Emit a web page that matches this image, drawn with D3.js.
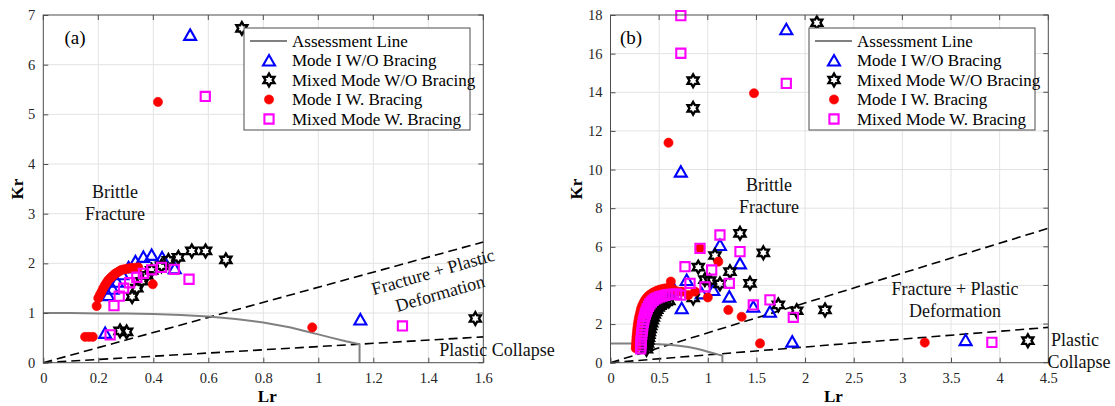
<!DOCTYPE html>
<html>
<head>
<meta charset="utf-8">
<script src="https://cdn.jsdelivr.net/npm/d3@7"></script>
<style>body{margin:0;background:#fff}</style>
</head>
<body>
<div id="chart"></div>
<script>
// ---------- data ----------
// assessment line (failure assessment curve), same in both panels
const assessLr = [0, 0.1, 0.2, 0.3, 0.4, 0.5, 0.6, 0.7, 0.8, 0.9, 0.95, 1.0, 1.05, 1.1, 1.125, 1.15, 1.15];
const assessKr = [1.0, 1.0, 0.99, 0.99, 0.98, 0.96, 0.93, 0.88, 0.81, 0.71, 0.64, 0.57, 0.50, 0.43, 0.40, 0.37, 0];

// dashed region boundaries [Lr, Kr] end points
const aUpperDash = [[0, 0], [1.6, 2.43]];
const aLowerDash = [[0, 0], [1.6, 0.52]];
const bUpperDash = [[0, 0], [4.5, 6.96]];
const bLowerDash = [[0, 0], [4.5, 1.83]];

const seriesNames = ["Mode I W/O Bracing", "Mixed Mode W/O Bracing", "Mode I W. Bracing", "Mixed Mode W. Bracing"];

// panel (a): [Lr, Kr]
const aModeIWO = [[0.534,6.60],[1.153,0.87],[0.225,0.60],
  [0.236,1.36],[0.252,1.49],[0.268,1.63],[0.287,1.78],[0.31,1.92],[0.335,2.04],[0.364,2.13],[0.394,2.17],[0.432,2.12],[0.478,1.90]];
const aMixedWO = [[0.722,6.73],[1.571,0.89],[0.279,0.64],[0.303,0.62],
  [0.323,1.33],[0.34,1.50],[0.358,1.64],[0.376,1.76],[0.394,1.86],[0.43,1.95],[0.455,2.06],[0.491,2.12],[0.54,2.25],[0.59,2.25],[0.664,2.07]];
const aModeIW = [[0.417,5.25],[0.978,0.71],[0.152,0.52],[0.166,0.52],[0.18,0.52],[0.194,1.14],[0.398,1.58],
  [0.2,1.30],[0.206,1.37],[0.212,1.43],[0.218,1.50],[0.224,1.56],[0.23,1.61],[0.236,1.66],[0.243,1.70],[0.249,1.73],
  [0.255,1.76],[0.261,1.79],[0.267,1.81],[0.273,1.83],[0.279,1.85],[0.285,1.87],[0.294,1.88],[0.303,1.89],[0.312,1.90],
  [0.321,1.91],[0.333,1.91],[0.345,1.92]];
const aMixedW = [[0.589,5.36],[1.306,0.74],[0.243,0.56],
  [0.257,1.15],[0.276,1.34],[0.292,1.50],[0.314,1.61],[0.34,1.72],[0.364,1.80],[0.394,1.87],[0.43,1.92],[0.476,1.88],[0.530,1.68]];

// panel (b): [Lr, Kr]
const bModeIWO = [[1.807,17.26],[0.723,9.89],[1.868,1.09],[3.65,1.17],
  [1.125,6.09],[1.331,5.14],[1.221,3.42],[1.468,2.90],[1.639,2.64],[0.732,2.82],[1.057,3.76],[0.937,3.59],[0.783,4.28],[0.62,3.6],[0.66,3.75]];
const bMixedWO = [[2.121,17.6],[0.849,14.6],[0.849,13.17],[4.29,1.14],
  [1.331,6.70],[1.571,5.69],[1.074,5.55],[0.902,4.95],[1.228,4.71],[1.434,4.11],[1.125,4.08],[0.97,4.3],[1.725,2.99],
  [1.914,2.69],[2.205,2.73],[0.85,3.35],[1.02,4.25],
  [0.37,0.7],[0.375,0.85],[0.38,1.0],[0.385,1.15],[0.39,1.3],[0.395,1.45],[0.40,1.6],[0.407,1.75],[0.414,1.9],
  [0.422,2.05],[0.43,2.2],[0.44,2.35],[0.45,2.5],[0.462,2.63],[0.475,2.75],[0.49,2.86],[0.507,2.95],[0.525,3.03],
  [0.545,3.1],[0.57,3.15],[0.6,3.2]];
const bModeIW = [[0.596,11.39],[1.475,13.95],[3.23,1.04],[1.108,5.23],[1.211,2.73],[1.348,2.38],[1.537,1.00],[1.0,3.38],
  [0.92,5.92],[0.732,3.68],[0.8,3.5],[0.868,3.68],[0.62,4.2],
  [0.26,0.75],[0.262,0.9],[0.264,1.05],[0.266,1.2],[0.268,1.35],[0.271,1.5],[0.274,1.65],[0.277,1.8],[0.281,1.95],
  [0.285,2.1],[0.29,2.25],[0.296,2.4],[0.303,2.55],[0.31,2.7],[0.318,2.84],[0.328,2.97],[0.34,3.1],[0.353,3.22],
  [0.368,3.33],[0.385,3.43],[0.405,3.52],[0.428,3.6],[0.452,3.67],[0.478,3.73],[0.505,3.78],[0.535,3.82],[0.565,3.85],
  [0.6,3.87],[0.64,3.8],[0.68,3.7]];
const bMixedW = [[0.723,17.97],[0.723,16.02],[1.807,14.46],[3.92,1.05],
  [1.125,6.61],[0.92,5.92],[1.331,5.75],[0.766,4.97],[1.04,4.80],[1.221,4.11],[1.468,2.99],[1.639,3.25],[1.879,2.35],
  [0.971,3.93],[0.817,4.11],
  [0.31,0.72],[0.312,0.87],[0.314,1.02],[0.316,1.17],[0.318,1.32],[0.321,1.47],[0.324,1.62],[0.328,1.77],[0.332,1.92],
  [0.337,2.07],[0.343,2.22],[0.35,2.37],[0.358,2.52],[0.367,2.66],[0.377,2.79],[0.39,2.92],[0.404,3.04],[0.42,3.14],
  [0.438,3.23],[0.458,3.3],[0.48,3.36],[0.505,3.41],[0.53,3.45],[0.56,3.49],[0.59,3.52],[0.62,3.54],[0.65,3.55],
  [0.68,3.55],[0.72,3.5]];

const aXTicks = d3.range(0, 1.61, 0.2);
const aYTicks = d3.range(0, 8, 1);
const bXTicks = d3.range(0, 4.51, 0.5);
const bYTicks = d3.range(0, 19, 2);

// ---------- drawing ----------
const W = 1115, H = 406;
const FONT = "'Liberation Serif', 'Times New Roman', serif";
const svg = d3.select("#chart").append("svg")
  .attr("width", W).attr("height", H)
  .style("font-family", FONT);

const BLUE = "#0000ff", BLACK = "#000000", RED = "#ff0000", MAGENTA = "#ff00ff";
const GREY = "#808080";

function hexagram(R) {
  const pts = [];
  for (let i = 0; i < 12; i++) {
    const a = -Math.PI / 2 + i * Math.PI / 6;
    const r = i % 2 === 0 ? R : R / Math.sqrt(3);
    pts.push([r * Math.cos(a), r * Math.sin(a)]);
  }
  return "M" + pts.map(p => p[0].toFixed(2) + "," + p[1].toFixed(2)).join("L") + "Z";
}

const markerStyles = [
  { d: "M0,-5.5L6,5L-6,5Z", fill: "none", stroke: BLUE, sw: 2.1 },
  { d: hexagram(6.3), fill: "none", stroke: BLACK, sw: 2.4 },
  { d: d3.symbol(d3.symbolCircle, Math.PI * 4.6 * 4.6)(), fill: RED, stroke: RED, sw: 0.6 },
  { d: "M-4.6,-4.6H4.6V4.6H-4.6Z", fill: "none", stroke: MAGENTA, sw: 2.1 }
];

function drawPanel(cfg) {
  const x = d3.scaleLinear().domain(cfg.xDomain).range(cfg.xRange);
  const y = d3.scaleLinear().domain(cfg.yDomain).range([362.7, 15]);
  const g = svg.append("g");
  const [x0, x1] = cfg.xRange, y0 = 362.7, y1 = 15;

  // grid
  g.append("g").selectAll("line").data(cfg.xTicks.slice(1, -1)).join("line")
    .attr("x1", d => x(d)).attr("x2", d => x(d)).attr("y1", y0).attr("y2", y1)
    .attr("stroke", "#e3e3e3").attr("stroke-width", 1);
  g.append("g").selectAll("line").data(cfg.yTicks.slice(1, -1)).join("line")
    .attr("x1", x0).attr("x2", x1).attr("y1", d => y(d)).attr("y2", d => y(d))
    .attr("stroke", "#e3e3e3").attr("stroke-width", 1);

  // dashed boundaries
  const line = d3.line().x(d => x(d[0])).y(d => y(d[1]));
  [cfg.upper, cfg.lower].forEach(seg => {
    g.append("path").attr("d", line(seg)).attr("fill", "none")
      .attr("stroke", "#000").attr("stroke-width", 1.6).attr("stroke-dasharray", "9,5");
  });

  // assessment line
  g.append("path").attr("d", line(assessLr.map((v, i) => [v, assessKr[i]])))
    .attr("fill", "none").attr("stroke", GREY).attr("stroke-width", 2);

  // markers
  cfg.series.forEach((data, k) => {
    const st = markerStyles[k];
    g.append("g").selectAll("path").data(data).join("path")
      .attr("d", st.d)
      .attr("transform", d => `translate(${x(d[0])},${y(d[1])})`)
      .attr("fill", st.fill).attr("stroke", st.stroke).attr("stroke-width", st.sw);
  });

  // frame + inward ticks
  g.append("rect").attr("x", x0).attr("y", y1).attr("width", x1 - x0).attr("height", y0 - y1)
    .attr("fill", "none").attr("stroke", "#4d4d4d").attr("stroke-width", 1);
  const xAxis = d3.axisBottom(x).tickValues(cfg.xTicks).tickSize(-5).tickPadding(10)
    .tickFormat(d => String(+d.toFixed(1)));
  const yAxis = d3.axisLeft(y).tickValues(cfg.yTicks).tickSize(-5).tickPadding(8)
    .tickFormat(d3.format("d"));
  [g.append("g").attr("transform", `translate(0,${y0})`).call(xAxis),
   g.append("g").attr("transform", `translate(${x0},0)`).call(yAxis)].forEach(ax => {
    ax.select(".domain").remove();
    ax.selectAll(".tick line").attr("stroke", "#4d4d4d");
    ax.selectAll(".tick text").attr("fill", "#262626").style("font-family", FONT).style("font-size", "14.5px");
  });
  // top / right ticks
  g.append("g").selectAll("line").data(cfg.xTicks).join("line")
    .attr("x1", d => x(d)).attr("x2", d => x(d)).attr("y1", y1).attr("y2", y1 + 5).attr("stroke", "#4d4d4d");
  g.append("g").selectAll("line").data(cfg.yTicks).join("line")
    .attr("x1", x1).attr("x2", x1 - 5).attr("y1", d => y(d)).attr("y2", d => y(d)).attr("stroke", "#4d4d4d");

  // axis titles
  g.append("text").attr("x", (x0 + x1) / 2 + 4).attr("y", 402).attr("text-anchor", "middle")
    .attr("font-weight", "bold").attr("font-size", 17).text("Lr");
  g.append("text").attr("transform", `translate(${cfg.krX},189) rotate(-90)`).attr("text-anchor", "middle")
    .attr("dominant-baseline", "central").attr("font-weight", "bold").attr("font-size", 17).text("Kr");

  // panel tag
  g.append("text").attr("x", cfg.tag[1]).attr("y", 44).attr("text-anchor", "middle")
    .attr("font-size", 19).text(cfg.tag[0]);

  // region labels
  cfg.labels.forEach(l => {
    g.append("text")
      .attr("transform", `translate(${l.x},${l.y}) rotate(${l.rot || 0})`)
      .attr("text-anchor", "middle").attr("dominant-baseline", "central")
      .attr("font-size", 18).attr("fill", "#111").text(l.t);
  });

  // legend
  const lx = cfg.legendX, ly = 28, lw = 226, lh = 102;
  const lg = g.append("g");
  lg.append("rect").attr("x", lx).attr("y", ly).attr("width", lw).attr("height", lh)
    .attr("fill", "#fff").attr("stroke", "#4d4d4d").attr("stroke-width", 1);
  const rows = [41, 60.5, 80, 99.5, 119];
  lg.append("line").attr("x1", lx + 6).attr("x2", lx + 43).attr("y1", rows[0]).attr("y2", rows[0])
    .attr("stroke", GREY).attr("stroke-width", 2);
  lg.append("text").attr("x", lx + 48).attr("y", rows[0]).attr("dominant-baseline", "central")
    .attr("font-size", 17).text("Assessment Line");
  seriesNames.forEach((name, k) => {
    const st = markerStyles[k];
    lg.append("path").attr("d", st.d).attr("transform", `translate(${lx + 25},${rows[k + 1]})`)
      .attr("fill", st.fill).attr("stroke", st.stroke).attr("stroke-width", st.sw);
    lg.append("text").attr("x", lx + 48).attr("y", rows[k + 1]).attr("dominant-baseline", "central")
      .attr("font-size", 17).text(name);
  });
}

drawPanel({
  xDomain: [0, 1.6], xRange: [43.3, 483.3], yDomain: [0, 7],
  xTicks: aXTicks, yTicks: aYTicks,
  upper: aUpperDash, lower: aLowerDash,
  series: [aModeIWO, aMixedWO, aModeIW, aMixedW],
  krX: 17, tag: ["(a)", 75], legendX: 244,
  labels: [
    { t: "Brittle", x: 115, y: 192 },
    { t: "Fracture", x: 115, y: 213.5 },
    { t: "Fracture + Plastic", x: 433, y: 272, rot: -16 },
    { t: "Deformation", x: 440, y: 293.5, rot: -16 },
    { t: "Plastic Collapse", x: 497, y: 350 }
  ]
});

drawPanel({
  xDomain: [0, 4.5], xRange: [610.5, 1048.3], yDomain: [0, 18],
  xTicks: bXTicks, yTicks: bYTicks,
  upper: bUpperDash, lower: bLowerDash,
  series: [bModeIWO, bMixedWO, bModeIW, bMixedW],
  krX: 576, tag: ["(b)", 631], legendX: 809,
  labels: [
    { t: "Brittle", x: 769, y: 185 },
    { t: "Fracture", x: 769, y: 207 },
    { t: "Fracture + Plastic", x: 955, y: 288.5 },
    { t: "Deformation", x: 955, y: 311 },
    { t: "Plastic", x: 1075, y: 340 },
    { t: "Collapse", x: 1079, y: 362 }
  ]
});
</script>
</body>
</html>
